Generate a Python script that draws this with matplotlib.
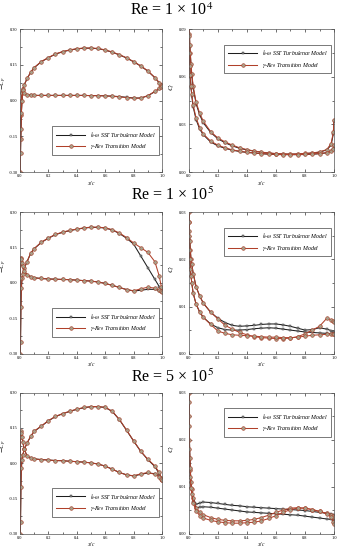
import numpy as np
import matplotlib.pyplot as plt
from matplotlib.lines import Line2D
from matplotlib.ticker import MultipleLocator

plt.rcParams['mathtext.fontset'] = 'stix'
plt.rcParams['font.family'] = ['Liberation Serif', 'DejaVu Serif']

# chordwise stations shared by every curve
x_c = [0.0, 0.001, 0.002, 0.004, 0.007, 0.01, 0.015, 0.02, 0.03, 0.05, 0.075, 0.1,
       0.15, 0.2, 0.25, 0.3, 0.35, 0.4, 0.45, 0.5, 0.55, 0.6, 0.65, 0.7, 0.75,
       0.8, 0.85, 0.9, 0.95, 0.98, 0.995, 1.0]

titles = ["Re = 1 × 10$^{4}$", "Re = 1 × 10$^{5}$", "Re = 5 × 10$^{5}$"]

# ---- Re = 1e4 ----
cp4_sst_up = [-1.0, -0.55, -0.30, -0.16, -0.06, 0.00, 0.035, 0.050, 0.066, 0.092, 0.118, 0.138, 0.163, 0.180, 0.195, 0.205,
              0.212, 0.217, 0.220, 0.220, 0.218, 0.212, 0.203, 0.192, 0.179, 0.163, 0.145, 0.124, 0.096, 0.075, 0.064, 0.060]
cp4_sst_lo = [-1.0, -0.60, -0.36, -0.22, -0.12, -0.05, 0.000, 0.045, 0.030, 0.024, 0.023, 0.022, 0.022, 0.022, 0.022, 0.022,
              0.022, 0.022, 0.022, 0.021, 0.021, 0.020, 0.019, 0.017, 0.014, 0.011, 0.011, 0.020, 0.038, 0.050, 0.057, 0.060]
cp4_tr_up = [-1.0, -0.55, -0.30, -0.16, -0.06, 0.00, 0.034, 0.049, 0.066, 0.093, 0.119, 0.139, 0.164, 0.181, 0.196, 0.206,
             0.213, 0.218, 0.221, 0.221, 0.219, 0.213, 0.204, 0.193, 0.180, 0.164, 0.146, 0.125, 0.097, 0.076, 0.065, 0.061]
cp4_tr_lo = [-1.0, -0.60, -0.36, -0.22, -0.12, -0.05, 0.000, 0.044, 0.030, 0.024, 0.023, 0.022, 0.022, 0.022, 0.022, 0.022,
             0.022, 0.022, 0.022, 0.021, 0.021, 0.020, 0.018, 0.016, 0.013, 0.010, 0.011, 0.021, 0.039, 0.051, 0.058, 0.061]
cf4_sst_a = [0.150, 0.110, 0.095, 0.086, 0.079, 0.074, 0.067, 0.061, 0.053, 0.043, 0.036, 0.031, 0.025, 0.021, 0.0185, 0.0165,
             0.015, 0.014, 0.0132, 0.0125, 0.012, 0.0116, 0.0114, 0.0113, 0.0114, 0.0117, 0.012, 0.0126, 0.014, 0.017, 0.024, 0.032]
cf4_sst_b = [0.150, 0.100, 0.085, 0.074, 0.066, 0.060, 0.053, 0.048, 0.041, 0.033, 0.027, 0.0235, 0.019, 0.0165, 0.015, 0.0138,
             0.013, 0.0124, 0.012, 0.0116, 0.0113, 0.0111, 0.011, 0.011, 0.011, 0.0111, 0.0113, 0.0116, 0.0122, 0.013, 0.0145, 0.016]
cf4_tr_a = [0.150, 0.110, 0.096, 0.087, 0.080, 0.075, 0.068, 0.062, 0.054, 0.044, 0.037, 0.032, 0.0255, 0.0215, 0.019, 0.017,
            0.0153, 0.0142, 0.0133, 0.0126, 0.0121, 0.0117, 0.0115, 0.0114, 0.0115, 0.0118, 0.0121, 0.0127, 0.0142, 0.018, 0.025, 0.033]
cf4_tr_b = [0.150, 0.100, 0.086, 0.075, 0.067, 0.061, 0.054, 0.049, 0.042, 0.034, 0.028, 0.024, 0.0195, 0.017, 0.0153, 0.014,
            0.0132, 0.0125, 0.0121, 0.0117, 0.0114, 0.0112, 0.0111, 0.0111, 0.0111, 0.0112, 0.0114, 0.0117, 0.0123, 0.0132, 0.0148, 0.017]

# ---- Re = 1e5 ----
cp5_sst_up = [-1.0, -0.70, -0.45, -0.25, -0.10, -0.02, 0.020, 0.040, 0.062, 0.090, 0.125, 0.145, 0.172, 0.190, 0.205, 0.215,
              0.222, 0.228, 0.233, 0.236, 0.236, 0.233, 0.225, 0.210, 0.190, 0.165, 0.115, 0.065, 0.015, -0.015, -0.030, -0.035]
cp5_sst_lo = [-1.0, -0.30, 0.020, 0.090, 0.105, 0.100, 0.085, 0.072, 0.052, 0.035, 0.027, 0.022, 0.019, 0.017, 0.016, 0.015,
              0.014, 0.012, 0.010, 0.008, 0.004, -0.002, -0.010, -0.019, -0.028, -0.034, -0.031, -0.027, -0.027, -0.032, -0.037, -0.040]
cp5_tr_up = [-1.0, -0.70, -0.45, -0.25, -0.10, -0.02, 0.020, 0.040, 0.062, 0.091, 0.126, 0.146, 0.173, 0.191, 0.206, 0.216,
             0.223, 0.229, 0.234, 0.237, 0.237, 0.234, 0.226, 0.212, 0.193, 0.170, 0.150, 0.130, 0.090, 0.030, -0.015, -0.035]
cp5_tr_lo = [-1.0, -0.30, 0.020, 0.090, 0.106, 0.100, 0.085, 0.072, 0.052, 0.035, 0.027, 0.022, 0.019, 0.017, 0.016, 0.015,
             0.014, 0.012, 0.010, 0.008, 0.004, -0.002, -0.010, -0.019, -0.028, -0.033, -0.025, -0.018, -0.022, -0.030, -0.036, -0.040]
cf5_sst_a = [0.040, 0.030, 0.028, 0.026, 0.024, 0.022, 0.020, 0.019, 0.017, 0.0142, 0.0122, 0.0107, 0.0088, 0.0075, 0.0066, 0.0060,
             0.0058, 0.0059, 0.0060, 0.0062, 0.0063, 0.0063, 0.0061, 0.0058, 0.0054, 0.0050, 0.0051, 0.0055, 0.0052, 0.0049, 0.0047, 0.0046]
cf5_sst_b = [0.040, 0.028, 0.025, 0.022, 0.020, 0.018, 0.0165, 0.015, 0.0128, 0.0105, 0.0088, 0.0077, 0.0063, 0.0055, 0.0051, 0.0050,
             0.0050, 0.0051, 0.0053, 0.0054, 0.0055, 0.0054, 0.0052, 0.0050, 0.0048, 0.0046, 0.0045, 0.0044, 0.0043, 0.0042, 0.0042, 0.0042]
cf5_tr_a = [0.040, 0.030, 0.028, 0.026, 0.024, 0.022, 0.020, 0.019, 0.017, 0.0142, 0.0122, 0.0107, 0.0088, 0.0074, 0.0060, 0.0052,
            0.0045, 0.0040, 0.0036, 0.0034, 0.0033, 0.0032, 0.0032, 0.0033, 0.0036, 0.0042, 0.0050, 0.0058, 0.0075, 0.0072, 0.0070, 0.0068]
cf5_tr_b = [0.040, 0.028, 0.025, 0.022, 0.020, 0.018, 0.0165, 0.015, 0.0128, 0.0105, 0.0088, 0.0077, 0.0062, 0.0048, 0.0043, 0.0040,
            0.0039, 0.0038, 0.0037, 0.0036, 0.0035, 0.0035, 0.0034, 0.0034, 0.0035, 0.0037, 0.0039, 0.0040, 0.0041, 0.0042, 0.0042, 0.0042]

# ---- Re = 5e5 ----
cp55_sst_up = [-1.0, -0.70, -0.45, -0.25, -0.10, -0.02, 0.015, 0.035, 0.058, 0.085, 0.113, 0.135, 0.157, 0.180, 0.198, 0.210,
               0.220, 0.229, 0.236, 0.240, 0.240, 0.237, 0.220, 0.185, 0.140, 0.094, 0.050, 0.015, -0.015, -0.045, -0.065, -0.075]
cp55_sst_lo = [-1.0, -0.30, 0.030, 0.110, 0.134, 0.130, 0.110, 0.090, 0.060, 0.030, 0.022, 0.018, 0.015, 0.013, 0.011, 0.010,
               0.008, 0.006, 0.004, 0.001, -0.004, -0.013, -0.026, -0.040, -0.050, -0.055, -0.048, -0.042, -0.045, -0.055, -0.066, -0.072]
cp55_tr_up = [-1.0, -0.70, -0.45, -0.25, -0.10, -0.02, 0.015, 0.035, 0.058, 0.086, 0.114, 0.136, 0.158, 0.181, 0.199, 0.211,
              0.221, 0.230, 0.237, 0.241, 0.241, 0.238, 0.221, 0.186, 0.141, 0.095, 0.051, 0.016, -0.012, -0.040, -0.062, -0.072]
cp55_tr_lo = [-1.0, -0.30, 0.030, 0.110, 0.135, 0.130, 0.110, 0.090, 0.060, 0.030, 0.022, 0.018, 0.015, 0.013, 0.011, 0.010,
              0.008, 0.006, 0.004, 0.001, -0.004, -0.013, -0.026, -0.040, -0.050, -0.054, -0.046, -0.040, -0.048, -0.058, -0.066, -0.070]
cf55_sst_a = [0.040, 0.030, 0.025, 0.020, 0.016, 0.0135, 0.011, 0.0095, 0.0075, 0.0062, 0.0065, 0.0067, 0.0066, 0.0064, 0.0062, 0.0060,
              0.0059, 0.0057, 0.0056, 0.0055, 0.0054, 0.0053, 0.0052, 0.0051, 0.0050, 0.0049, 0.0047, 0.0045, 0.0043, 0.0041, 0.0040, 0.0039]
cf55_sst_b = [0.040, 0.028, 0.023, 0.018, 0.014, 0.012, 0.0098, 0.0085, 0.0068, 0.0055, 0.0056, 0.0057, 0.0056, 0.0054, 0.0052, 0.0050,
              0.0048, 0.0046, 0.0045, 0.0044, 0.0043, 0.0042, 0.0041, 0.0040, 0.0039, 0.0037, 0.0035, 0.0033, 0.0031, 0.0030, 0.0029, 0.0028]
cf55_tr_a = [0.040, 0.030, 0.025, 0.020, 0.016, 0.0135, 0.011, 0.0095, 0.0075, 0.0055, 0.0045, 0.0040, 0.0034, 0.0030, 0.0028, 0.0027,
             0.0027, 0.0028, 0.0030, 0.0034, 0.0039, 0.0045, 0.0050, 0.0054, 0.0055, 0.0054, 0.0051, 0.0047, 0.0043, 0.0040, 0.0037, 0.0035]
cf55_tr_b = [0.040, 0.028, 0.023, 0.018, 0.014, 0.012, 0.0098, 0.0085, 0.0065, 0.0048, 0.0038, 0.0033, 0.0028, 0.0025, 0.0023, 0.0022,
             0.0022, 0.0023, 0.0024, 0.0027, 0.0032, 0.0038, 0.0045, 0.0051, 0.0054, 0.0054, 0.0051, 0.0047, 0.0042, 0.0035, 0.0025, 0.0020]

cp_sets = [(cp4_sst_up, cp4_sst_lo, cp4_tr_up, cp4_tr_lo),
           (cp5_sst_up, cp5_sst_lo, cp5_tr_up, cp5_tr_lo),
           (cp55_sst_up, cp55_sst_lo, cp55_tr_up, cp55_tr_lo)]
cf_sets = [(cf4_sst_a, cf4_sst_b, cf4_tr_a, cf4_tr_b),
           (cf5_sst_a, cf5_sst_b, cf5_tr_a, cf5_tr_b),
           (cf55_sst_a, cf55_sst_b, cf55_tr_a, cf55_tr_b)]
cf_max = [0.09, 0.03, 0.03]

sst_label = r"$k$-$\omega$ SST Turbulence Model"
tr_label = r"$\gamma$-$Re_{\theta}$ Transition Model"

SST_STYLE = dict(color="#1e1e1e", lw=0.75, marker="s", ms=1.9, mfc="#8a8a8a", mec="#3a3a3a", mew=0.35)
TR_STYLE = dict(color="#b0402a", lw=0.75, marker="o", ms=2.6, mfc="#a9a08a", mec="#a8442e", mew=0.45)


def style_axis(ax, ystep, fmt):
    ax.set_xlim(0, 1)
    ax.xaxis.set_major_locator(MultipleLocator(0.2))
    ax.xaxis.set_minor_locator(MultipleLocator(0.1))
    ax.yaxis.set_major_locator(MultipleLocator(ystep))
    ax.yaxis.set_minor_locator(MultipleLocator(ystep / 2))
    ax.tick_params(which="both", direction="in", top=True, right=True, labelsize=3.2, pad=1.5, width=0.4)
    ax.tick_params(which="major", length=2.5)
    ax.tick_params(which="minor", length=1.3)
    ax.xaxis.set_major_formatter(plt.FormatStrFormatter("%.1f"))
    ax.yaxis.set_major_formatter(plt.FormatStrFormatter(fmt))
    for s in ax.spines.values():
        s.set_linewidth(0.5)
        s.set_color("#555555")
    ax.set_xlabel(r"$x/c$", fontsize=4)
    ax.xaxis.set_label_coords(0.5, -0.045)


fig = plt.figure(figsize=(3.44, 5.5), dpi=100)
bottoms = [0.687, 0.357, 0.030]
heights = [0.26, 0.257, 0.256]
title_y = [0.981, 0.645, 0.313]

for r in range(3):
    fig.text(0.5, title_y[r], titles[r], ha="center", va="center", fontsize=11.5)

    ax = fig.add_axes([0.058, bottoms[r], 0.413, heights[r]])
    sst_up, sst_lo, tr_up, tr_lo = cp_sets[r]
    ax.plot(x_c, sst_up, **SST_STYLE)
    ax.plot(x_c, sst_lo, **SST_STYLE)
    ax.plot(x_c, tr_up, **TR_STYLE)
    ax.plot(x_c, tr_lo, **TR_STYLE)
    ax.set_ylim(-0.30, 0.30)
    style_axis(ax, 0.15, "%.2f")
    ax.set_ylabel(r"$-C_p$", fontsize=5)
    ax.yaxis.set_label_coords(-0.075, 0.62)
    handles = [Line2D([], [], **SST_STYLE), Line2D([], [], **TR_STYLE)]
    leg = ax.legend(handles, [sst_label, tr_label], loc="lower right",
                    prop={"style": "italic", "size": 4.2}, fancybox=False, framealpha=1,
                    edgecolor="#444444", handlelength=5, borderpad=0.6, labelspacing=0.6,
                    bbox_to_anchor=(1.0, 0.1))
    leg.get_frame().set_linewidth(0.5)

    ax2 = fig.add_axes([0.549, bottoms[r], 0.422, heights[r]])
    a1, b1, a2, b2 = cf_sets[r]
    ax2.plot(x_c, a1, **SST_STYLE)
    ax2.plot(x_c, b1, **SST_STYLE)
    ax2.plot(x_c, a2, **TR_STYLE)
    ax2.plot(x_c, b2, **TR_STYLE)
    ax2.set_ylim(0, cf_max[r])
    style_axis(ax2, cf_max[r] / 3, "%.2f")
    ax2.set_ylabel(r"$C_f$", fontsize=5)
    ax2.yaxis.set_label_coords(-0.075, 0.6)
    leg2 = ax2.legend(handles, [sst_label, tr_label], loc="upper right",
                      prop={"style": "italic", "size": 4.2}, fancybox=False, framealpha=1,
                      edgecolor="#444444", handlelength=5, borderpad=0.6, labelspacing=0.6,
                      bbox_to_anchor=(1.0, 0.91))
    leg2.get_frame().set_linewidth(0.5)

fig.savefig("out.png", dpi=100)
